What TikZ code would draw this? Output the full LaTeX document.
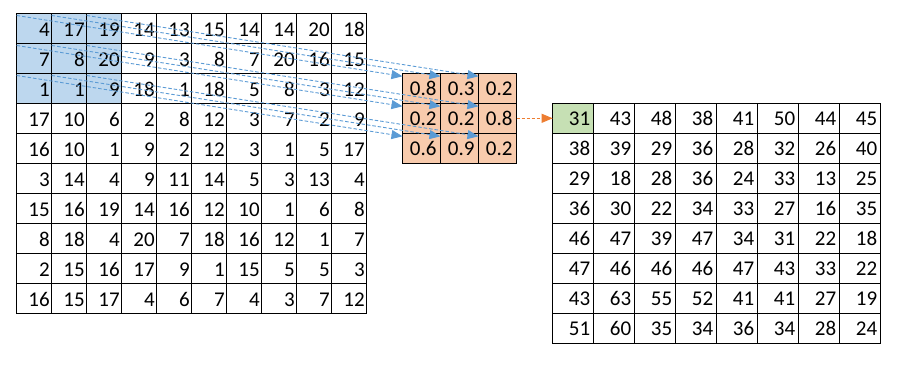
\documentclass[tikz,border=0pt]{standalone}
\usepackage{fontspec}
\setmainfont{Carlito}
\usetikzlibrary{arrows.meta,calc}
\definecolor{inblue}{HTML}{BDD7EE}
\definecolor{kerorange}{HTML}{F8CBAD}
\definecolor{outgreen}{HTML}{C6E0B4}
\definecolor{arrblue}{HTML}{5B9BD5}
\definecolor{arrorange}{HTML}{ED7D31}
\tikzset{
  cell/.style={draw=black, line width=1pt, minimum height=30pt, inner ysep=0pt,
    outer sep=0pt, align=right, anchor=north west,
    font=\fontsize{21}{25}\selectfont, text height=15pt, text depth=0pt},
  incell/.style={cell, inner xsep=2pt, text width=31pt},
  kcell/.style={cell, inner xsep=4pt, text width=30pt, fill=kerorange},
  ocell/.style={cell, inner xsep=3.5pt, text width=34pt},
  barrow/.style={draw=arrblue, line width=0.9pt, dash pattern=on 3.5pt off 2pt,
    -{Triangle[length=11pt,width=9pt,fill=arrblue]}},
  oarrow/.style={draw=arrorange, line width=0.9pt, dash pattern=on 3pt off 2pt,
    -{Triangle[length=11pt,width=9pt,fill=arrorange]}}
}
\begin{document}
\begin{tikzpicture}[x=1pt,y=-1pt]
\useasboundingbox (0,0) rectangle (898,373);
% input grid
\foreach \row [count=\r from 0] in {
  {4,17,19,14,13,15,14,14,20,18},
  {7,8,20,9,3,8,7,20,16,15},
  {1,1,9,18,1,18,5,8,3,12},
  {17,10,6,2,8,12,3,7,2,9},
  {16,10,1,9,2,12,3,1,5,17},
  {3,14,4,9,11,14,5,3,13,4},
  {15,16,19,14,16,12,10,1,6,8},
  {8,18,4,20,7,18,16,12,1,7},
  {2,15,16,17,9,1,15,5,5,3},
  {16,15,17,4,6,7,4,3,7,12}} {
  \foreach \v [count=\c from 0] in \row {
    \pgfmathtruncatemacro\hl{and(\r<3,\c<3)}
    \ifnum\hl=1 \def\cfill{inblue}\else\def\cfill{white}\fi
    \node[incell, fill=\cfill] (i-\r-\c) at ({16.7+35*\c},{13.5+30*\r}) {\v};
  }
}
% kernel
\foreach \row [count=\r from 0] in {{0.8,0.3,0.2},{0.2,0.2,0.8},{0.6,0.9,0.2}} {
  \foreach \v [count=\c from 0] in \row {
    \node[kcell] (k-\r-\c) at ({402.5+38*\c},{73.3+30*\r}) {\v};
  }
}
% output grid
\foreach \row [count=\r from 0] in {
  {31,43,48,38,41,50,44,45},
  {38,39,29,36,28,32,26,40},
  {29,18,28,36,24,33,13,25},
  {36,30,22,34,33,27,16,35},
  {46,47,39,47,34,31,22,18},
  {47,46,46,46,47,43,33,22},
  {43,63,55,52,41,41,27,19},
  {51,60,35,34,36,34,28,24}} {
  \foreach \v [count=\c from 0] in \row {
    \pgfmathtruncatemacro\hl{and(\r==0,\c==0)}
    \ifnum\hl=1 \def\cfill{outgreen}\else\def\cfill{white}\fi
    \node[ocell, fill=\cfill] (o-\r-\c) at ({552.7+41*\c},{103.3+30*\r}) {\v};
  }
}
% arrows
\foreach \r in {0,1,2} {
  \foreach \c in {0,1,2} {
    \draw[barrow] ($(i-\r-\c.north west)+(0,2)$) -- ($(k-\r-\c.north west)+(0,3)$);
  }
}
\draw[oarrow] (k-1-2.east) -- (o-0-0.west);
\end{tikzpicture}
\end{document}
